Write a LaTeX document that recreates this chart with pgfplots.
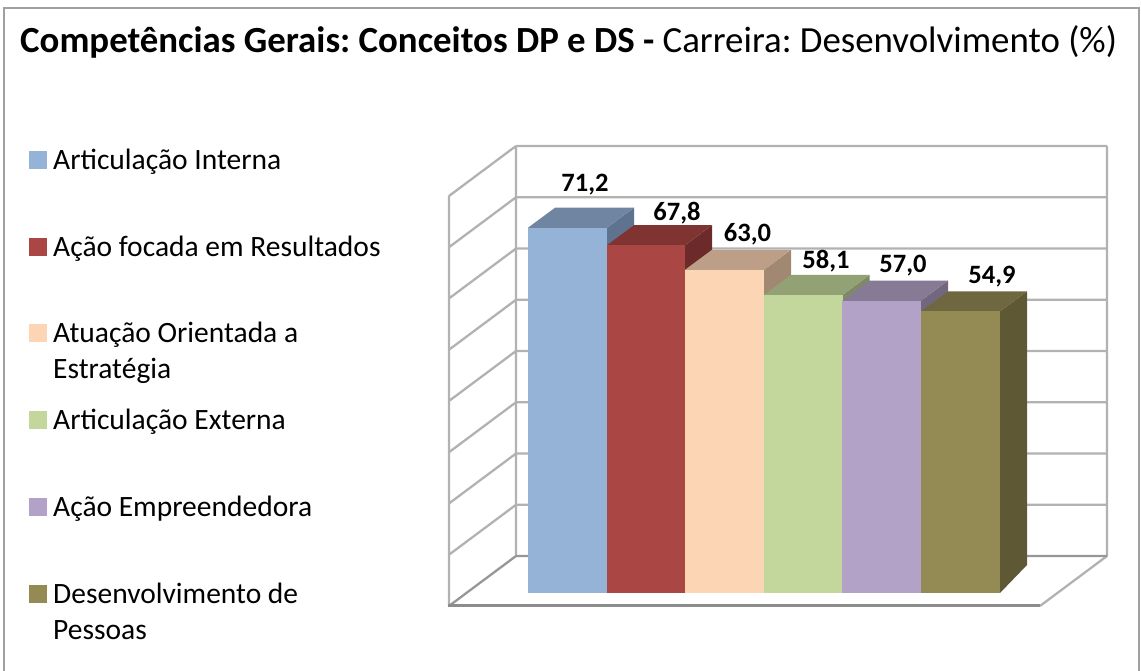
\documentclass[border=0pt]{standalone}
\usepackage{pgfplots}
\pgfplotsset{compat=1.18}
\usepackage{fontspec}
\setmainfont{Carlito}
\frenchspacing
\definecolor{gridc}{HTML}{B2B2B2}
\definecolor{framec}{HTML}{A0A0A0}
\definecolor{floorc}{HTML}{8C8C8C}
\definecolor{c1}{HTML}{95B3D7}\definecolor{t1}{HTML}{7085A2}\definecolor{s1}{HTML}{5F7290}
\definecolor{c2}{HTML}{AA4643}\definecolor{t2}{HTML}{803432}\definecolor{s2}{HTML}{6C2B2A}
\definecolor{c3}{HTML}{FCD5B5}\definecolor{t3}{HTML}{BD9F87}\definecolor{s3}{HTML}{A08873}
\definecolor{c4}{HTML}{C3D69B}\definecolor{t4}{HTML}{93A274}\definecolor{s4}{HTML}{7D8A63}
\definecolor{c5}{HTML}{B3A2C7}\definecolor{t5}{HTML}{867A95}\definecolor{s5}{HTML}{72677F}
\definecolor{c6}{HTML}{948A54}\definecolor{t6}{HTML}{6F673F}\definecolor{s6}{HTML}{5E5835}
\pgfplotsset{front/.style={ybar,bar shift=0pt,bar width=78.7,draw=none,forget plot},
  face/.style={draw=none,forget plot}}
\begin{document}
\begin{tikzpicture}[x=1pt,y=1pt]
\path[use as bounding box] (0,0) rectangle (1141,671);
\begin{axis}[
  at={(0,0)},anchor=south west,
  scale only axis,width=1141pt,height=671pt,
  xmin=0,xmax=1141,ymin=-15.205,ymax=115.595,
  hide axis,clip=false,unbounded coords=jump,
]
% walls: gridlines
\addplot[gridc,line width=2.3pt,forget plot] coordinates {
 (516,87.13)(1107,87.13)(nan,nan)
 (516,77.14)(1107,77.14)(nan,nan)
 (516,67.15)(1107,67.15)(nan,nan)
 (516,57.16)(1107,57.16)(nan,nan)
 (516,47.17)(1107,47.17)(nan,nan)
 (516,37.18)(1107,37.18)(nan,nan)
 (516,27.19)(1107,27.19)(nan,nan)
 (516,17.20)(1107,17.20)(nan,nan)
 (516,87.13)(516,7.21)(nan,nan)
 (449,77.39)(449,-2.53)(nan,nan)
 (1107,87.13)(1107,7.21)(nan,nan)
 (449,77.39)(516,87.13)(nan,nan)
 (449,67.40)(516,77.14)(nan,nan)
 (449,57.41)(516,67.15)(nan,nan)
 (449,47.42)(516,57.16)(nan,nan)
 (449,37.43)(516,47.17)(nan,nan)
 (449,27.44)(516,37.18)(nan,nan)
 (449,17.45)(516,27.19)(nan,nan)
 (449,7.46)(516,17.20)(nan,nan)
 (1107,7.21)(1040,-2.53)
};
\addplot[gridc!85!black,line width=2.3pt,forget plot] coordinates {(516,7.21)(1107,7.21)(nan,nan)(449,-2.53)(516,7.21)};
\addplot[floorc,line width=3pt,forget plot] coordinates {(448,-2.53)(1040,-2.53)};
% bar 1
\addplot[face,fill=s1] coordinates {(607,0)(634,5.46)(634,75.1)(607,71.2)} \closedcycle;
\addplot[face,fill=t1] coordinates {(528,71.2)(555,75.1)(634,75.1)(607,71.2)} \closedcycle;
\addplot[front,fill=c1] coordinates {(567.35,71.2)};
% bar 2
\addplot[face,fill=s2] coordinates {(685,0)(712,5.46)(712,71.7)(685,67.8)} \closedcycle;
\addplot[face,fill=t2] coordinates {(607,67.8)(634,71.7)(712,71.7)(685,67.8)} \closedcycle;
\addplot[front,fill=c2] coordinates {(646,67.8)};
% bar 3
\addplot[face,fill=s3] coordinates {(764,0)(791,5.46)(791,66.9)(764,63.0)} \closedcycle;
\addplot[face,fill=t3] coordinates {(685,63.0)(712,66.9)(791,66.9)(764,63.0)} \closedcycle;
\addplot[front,fill=c3] coordinates {(724.5,63.0)};
% bar 4
\addplot[face,fill=s4] coordinates {(842.5,0)(869.5,5.46)(869.5,62.0)(842.5,58.1)} \closedcycle;
\addplot[face,fill=t4] coordinates {(764,58.1)(791,62.0)(869.5,62.0)(842.5,58.1)} \closedcycle;
\addplot[front,fill=c4] coordinates {(803.25,58.1)};
% bar 5
\addplot[face,fill=s5] coordinates {(921,0)(948,5.46)(948,60.9)(921,57.0)} \closedcycle;
\addplot[face,fill=t5] coordinates {(842.5,57.0)(869.5,60.9)(948,60.9)(921,57.0)} \closedcycle;
\addplot[front,fill=c5] coordinates {(881.75,57.0)};
% bar 6
\addplot[face,fill=s6] coordinates {(1000,0)(1027,5.46)(1027,58.8)(1000,54.9)} \closedcycle;
\addplot[face,fill=t6] coordinates {(921,54.9)(948,58.8)(1027,58.8)(1000,54.9)} \closedcycle;
\addplot[front,fill=c6] coordinates {(960.5,54.9)};
% value labels
\addplot[draw=none,forget plot,point meta=explicit symbolic,
  nodes near coords,nodes near coords align={anchor=center},
  every node near coord/.append style={font=\fontsize{26.5}{30}\selectfont\bfseries,inner sep=0pt}]
 table[meta=lab] {
x y lab
585 79.53 71,2
677 74.07 67,8
747.5 69.99 63,0
826 64.71 58,1
903 63.74 57,0
992 61.60 54,9
};
% legend keys
\addplot[only marks,mark=square*,mark size=8.5pt,mark options={c1,draw=none,fill=c1},forget plot] coordinates {(37.5,84.39)};
\addplot[only marks,mark=square*,mark size=8.5pt,mark options={c2,draw=none,fill=c2},forget plot] coordinates {(37.5,67.43)};
\addplot[only marks,mark=square*,mark size=8.5pt,mark options={c3,draw=none,fill=c3},forget plot] coordinates {(37.5,50.68)};
\addplot[only marks,mark=square*,mark size=8.5pt,mark options={c4,draw=none,fill=c4},forget plot] coordinates {(37.5,33.72)};
\addplot[only marks,mark=square*,mark size=8.5pt,mark options={c5,draw=none,fill=c5},forget plot] coordinates {(37.5,16.76)};
\addplot[only marks,mark=square*,mark size=8.5pt,mark options={c6,draw=none,fill=c6},forget plot] coordinates {(37.5,-0.19)};
\end{axis}
\draw[framec,line width=2.2pt] (4,0)--(4,663)--(1139,663)--(1139,0);
\node[anchor=base west,inner sep=0pt,font=\fontsize{36.85}{40}\selectfont] at (20,618)
  {\textbf{Competências Gerais: Conceitos DP e DS -} Carreira: Desenvolvimento (\%)};
\begin{scope}[every node/.style={anchor=base west,inner sep=0pt,font=\fontsize{29.5}{32}\selectfont}]
\node at (53,501.5) {Articulação Interna};
\node at (53,414.5) {Ação focada em Resultados};
\node at (53,328.5) {Atuação Orientada a};
\node at (53,292.5) {Estratégia};
\node at (53,241.5) {Articulação Externa};
\node at (53,154.5) {Ação Empreendedora};
\node at (53,67.5) {Desenvolvimento de};
\node at (53,31.5) {Pessoas};
\end{scope}
\end{tikzpicture}
\end{document}
